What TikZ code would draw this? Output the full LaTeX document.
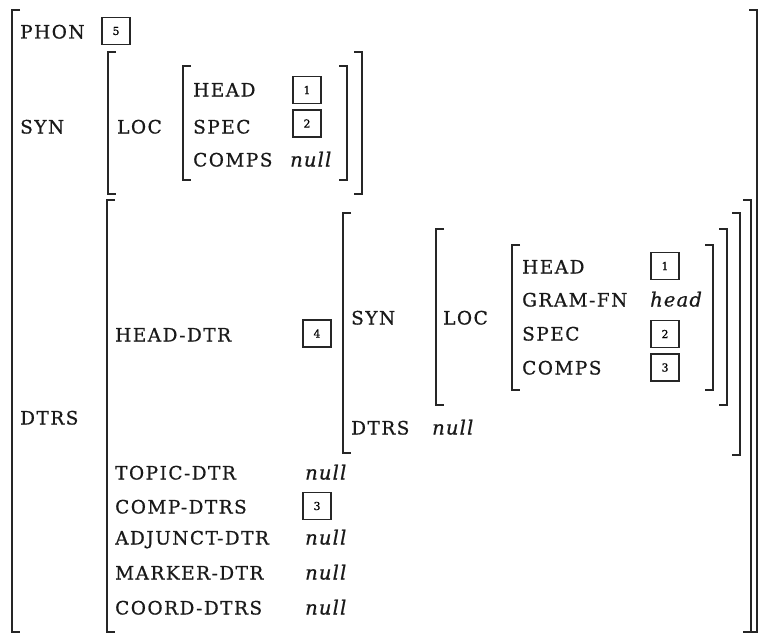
\documentclass[tikz,border=0pt]{standalone}
\usepackage{fontspec}
\setmainfont{DejaVu Serif}
\usepackage{tikz}
\usetikzlibrary{positioning}

% square brackets of the matrices
\newcommand{\lbrk}[3]{\draw[brk] (#1+8,#2) -| (#1,#3) -- (#1+8,#3);}
\newcommand{\rbrk}[3]{\draw[brk] (#1-8,#2) -| (#1,#3) -- (#1-8,#3);}

\begin{document}
\begin{tikzpicture}[
    x=1pt, y=-1pt,
    attr/.style={anchor=base west, inner sep=0pt, text=black!90, font=\fontsize{18.5}{21}\selectfont\addfontfeatures{LetterSpace=8,FakeBold=0.7}},
    val/.style={anchor=base west, inner sep=0pt, text=black!90, font=\fontsize{19.5}{22}\selectfont\itshape\addfontfeatures{LetterSpace=6,FakeBold=0.7}},
    tag/.style={draw=black!85, line width=1.3pt, minimum width=28pt, minimum height=27pt, inner sep=0pt, font=\fontsize{11}{11}\selectfont\addfontfeatures{FakeBold=0.7}},
    brk/.style={line width=1.8pt, draw=black!85},
]
\useasboundingbox (0,0) rectangle (758,634);

% top level
\node[attr] (phon) at (20,38.5) {PHON};
\node[tag] (t5) at (116,31) {5};
\node[attr] (syn) at (20,133.5) {SYN};
\node[attr] (dtrs) at (20,424.5) {DTRS};
\lbrk{12}{10}{632}
\rbrk{757}{10}{632}

% SYN value
\node[attr] (loc) at (117,133.5) {LOC};
\node[attr] (head) at (193,96.5) {HEAD};
\node[tag] (t1) at (307,90) {1};
\node[attr] (spec) at (193,133.5) {SPEC};
\node[tag] (t2) at (307,123.5) {2};
\node[attr] (comps) at (193,166.5) {COMPS};
\node[val] (cnull) at (290,166.5) {null};
\lbrk{108}{52}{194}
\rbrk{362}{52}{194}
\lbrk{183}{66}{180}
\rbrk{347}{66}{180}

% DTRS value
\node[attr] (hdtr) at (115,341.5) {HEAD-DTR};
\node[tag] (t4) at (317,333.5) {4};
\node[attr] (tdtr) at (115,479.5) {TOPIC-DTR};
\node[val] (tnull) at (305,479.5) {null};
\node[attr] (cdtrs) at (115,513.5) {COMP-DTRS};
\node[tag] (t3b) at (317,506) {3};
\node[attr] (adtr) at (115,544.5) {ADJUNCT-DTR};
\node[val] (anull) at (305,544.5) {null};
\node[attr] (mdtr) at (115,579.5) {MARKER-DTR};
\node[val] (mnull) at (305,579.5) {null};
\node[attr] (codtrs) at (115,614.5) {COORD-DTRS};
\node[val] (conull) at (305,614.5) {null};
\lbrk{107}{200}{632}
\rbrk{751}{200}{632}

% HEAD-DTR value
\node[attr] (hsyn) at (351,324.5) {SYN};
\node[attr] (hloc) at (443,324.5) {LOC};
\node[attr] (hdtrs) at (351,434.5) {DTRS};
\node[val] (hnull) at (432,434.5) {null};
\node[attr] (hhead) at (522,273.5) {HEAD};
\node[tag] (h1) at (665,266) {1};
\node[attr] (hgram) at (522,306.5) {GRAM-FN};
\node[val] (hval) at (650,306.5) {head};
\node[attr] (hspec) at (522,340.5) {SPEC};
\node[tag] (h2) at (665,334) {2};
\node[attr] (hcomps) at (522,374.5) {COMPS};
\node[tag] (h3) at (665,367.5) {3};
\lbrk{343}{213}{453}
\rbrk{740}{213}{455}
\lbrk{436}{229}{405}
\rbrk{727}{229}{405}
\lbrk{512}{245}{390}
\rbrk{713}{245}{390}
\end{tikzpicture}
\end{document}
